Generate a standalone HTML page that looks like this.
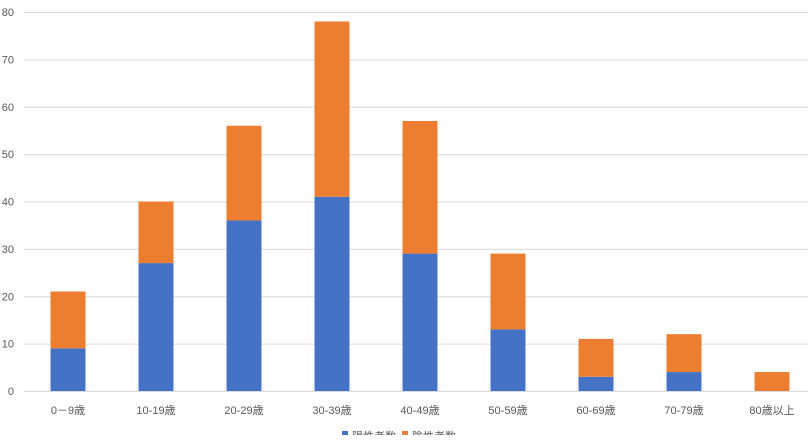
<!DOCTYPE html>
<html><head><meta charset="utf-8"><style>
body{margin:0;background:#fff;width:808px;height:435px;overflow:hidden;font-family:"Liberation Sans","Noto Sans CJK JP",sans-serif}
</style></head><body>
<svg id="c" width="808" height="435"></svg>
<script>
const categories=["0－9歳","10-19歳","20-29歳","30-39歳","40-49歳","50-59歳","60-69歳","70-79歳","80歳以上"];
const positives=[9,27,36,41,29,13,3,4,0];
const negatives=[12,13,20,37,28,16,8,8,4];
const ticks=[0,10,20,30,40,50,60,70,80];
const NS="http://www.w3.org/2000/svg";
const svg=document.getElementById('c');
const y=v=>391-v*(379/80);
const x=i=>68+i*88;
function mk(t,a){const e=document.createElementNS(NS,t);for(const k in a)e.setAttribute(k,a[k]);svg.appendChild(e);return e;}
ticks.forEach(t=>{
 const l=mk('line',{x1:24,x2:808,y1:y(t)+0.5,y2:y(t)+0.5,stroke:'#d9d9d9','stroke-width':1});
 
 
 const tx=mk('text',{x:14,y:y(t)+4,'font-size':11,fill:'#595959','text-anchor':'end'});
 tx.textContent=t;
 
 
});
categories.forEach((c,i)=>{
 const w=35,bx=x(i)-w/2;
 const b=mk('rect',{x:bx,y:y(positives[i]),width:w,height:y(0)-y(positives[i]),fill:'#4472c4'});
 
 
 const top=positives[i]+negatives[i];
 const o=mk('rect',{x:bx,y:y(top),width:w,height:y(positives[i])-y(top),fill:'#ed7d31'});
 
 
 const t=mk('text',{x:x(i),y:414,'font-size':11,fill:'#595959','text-anchor':'middle'});
 t.textContent=c;
 
 
});
const lg=[['#4472c4','陽性者数',352],['#ed7d31','陰性者数',412]];
lg.forEach(([col,txt,lx],i)=>{
 const r=mk('rect',{x:lx-10,y:431,width:6,height:6,fill:col});
 
 
 const t=mk('text',{x:lx,y:440,'font-size':11,fill:'#595959'});
 t.textContent=txt;
 
 
});
</script>
</body></html>
